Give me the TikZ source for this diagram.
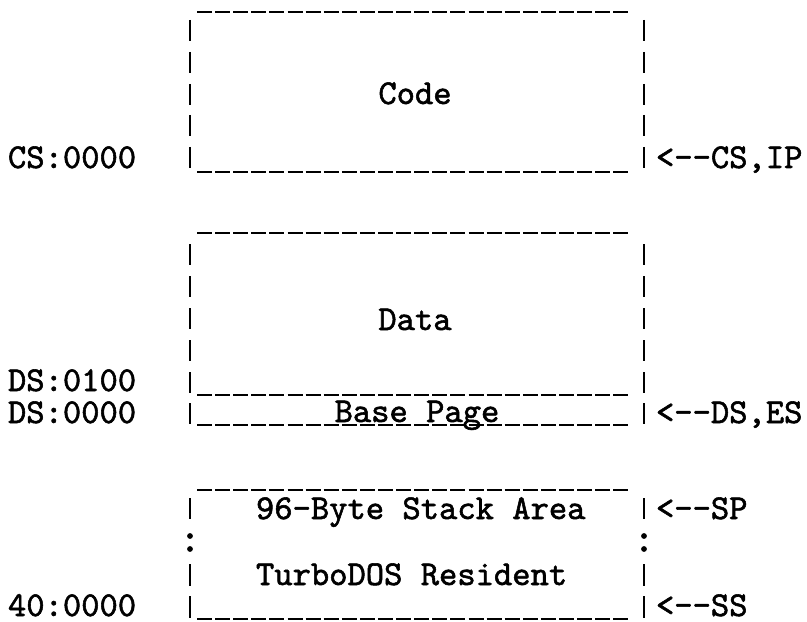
\documentclass[tikz,border=0pt]{standalone}
\usepackage{fontspec}
\newfontfamily\tw{lmmono10-regular.otf}[FakeBold=1.6]
\begin{document}
\begin{tikzpicture}[x=1bp,y=-1bp,
  txt/.style={font=\tw\fontsize{35}{35}\selectfont, inner sep=0pt, outer sep=0pt},
  bar/.style={line width=2.8bp},
  rule/.style={line width=2.5bp, dash pattern=on 15bp off 3.1bp},
  dot/.style={fill=black}]
\useasboundingbox (0,0) rectangle (807,622);
% ---------- box 1: Code ----------
\draw[rule] (197,12) -- (630,12);
\foreach \t in {20,52,84,115,147}{
  \draw[bar] (190,\t) -- ++(0,21);
  \draw[bar] (644,\t) -- ++(0,21);
}
\draw[rule] (197,172) -- (630,172);
\node[txt, anchor=base] (code) at (415,104) {Code};
\node[txt, anchor=base west] (cs) at (8,168) {CS:0000};
\node[txt, anchor=base west] (csip) at (656,168) {<--CS,IP};
% ---------- box 2: Data ----------
\draw[rule] (197,233) -- (630,233);
\foreach \t in {244,276,308,340,372,403}{
  \draw[bar] (190,\t) -- ++(0,21);
  \draw[bar] (644,\t) -- ++(0,21);
}
\draw[rule] (197,395) -- (630,395);
\draw[rule] (197,425) -- (630,425);
\node[txt, anchor=base] (data) at (415,330) {Data};
\node[txt, anchor=base] (base) at (417,422) {Base Page};
\node[txt, anchor=base west] (ds1) at (8,391) {DS:0100};
\node[txt, anchor=base west] (ds0) at (8,423) {DS:0000};
\node[txt, anchor=base west] (dses) at (656,423) {<--DS,ES};
% ---------- box 3: stack ----------
\draw[rule] (197,490) -- (630,490);
\foreach \t/\l in {498/21,564/22,596/22}{
  \draw[bar] (190,\t) -- ++(0,\l);
  \draw[bar] (644,\t) -- ++(0,\l);
}
\foreach \xx in {190,644}{
  \fill[dot] (\xx,536) circle (2.9bp);
  \fill[dot] (\xx,549) circle (2.9bp);
}
\draw[rule] (197,619) -- (630,619);
\node[txt, anchor=base west] (stack) at (256,519) {96-Byte Stack Area};
\node[txt, anchor=base west] (sp) at (656,519) {<--SP};
\node[txt, anchor=base west] (turbo) at (256,585) {TurboDOS Resident};
\node[txt, anchor=base west] (seg) at (8,616) {40:0000};
\node[txt, anchor=base west] (ss) at (656,616) {<--SS};
\end{tikzpicture}
\end{document}
